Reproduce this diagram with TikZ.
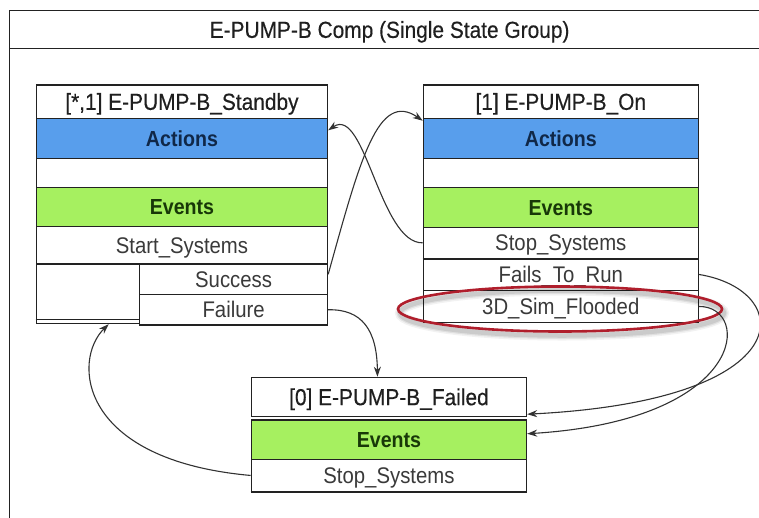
\documentclass[tikz,border=0pt]{standalone}
\usepackage{fontspec}
\setmainfont[FakeStretch=0.9]{Liberation Sans}
\newfontfamily\headfont[FakeStretch=0.9,FakeBold=0.35]{Liberation Sans}
\usetikzlibrary{arrows.meta,shapes.geometric}
\definecolor{linec}{RGB}{34,34,34}
\definecolor{bodyc}{RGB}{58,58,58}
\definecolor{actfill}{RGB}{88,158,236}
\definecolor{actc}{RGB}{16,40,72}
\definecolor{evfill}{RGB}{166,240,96}
\definecolor{evc}{RGB}{24,56,8}
\definecolor{hlred}{RGB}{176,30,44}
\definecolor{wirec}{RGB}{50,50,50}
\tikzset{
  cell/.style={draw=linec, line width=1.2pt, fill=white, inner sep=0pt,
    anchor=north west, text=bodyc, font=\fontsize{22.6}{26}\selectfont,
    text height=16pt, text depth=0pt},
  headcell/.style={cell, text=black!88, font=\headfont\fontsize{23.2}{27}\selectfont, text height=16.5pt},
  actcell/.style={cell, fill=actfill, text=actc, font=\bfseries\fontsize{21.8}{25}\selectfont, text height=15.5pt},
  evcell/.style={cell, fill=evfill, text=evc, font=\bfseries\fontsize{21.8}{25}\selectfont, text height=15.5pt},
  wire/.style={draw=wirec, line width=1.1pt, -{Stealth[length=10pt,width=7pt]}},
  thickline/.style={draw=linec, line width=2.6pt},
}
\begin{document}
\begin{tikzpicture}[x=1pt,y=-1pt]
\useasboundingbox (0,0) rectangle (759,517);
\clip (0,0) rectangle (759,517);
\fill[white] (0,0) rectangle (759,517);

% group frame and its title bar
\node[cell, minimum width=760pt, minimum height=482pt] (frame) at (9,48) {};
\node[headcell, minimum width=760pt, minimum height=38pt] (title) at (9,10) {E-PUMP-B Comp (Single State Group)};

% state: standby
\node[headcell, minimum width=291.3pt, minimum height=33.4pt] (sbh) at (35.7,84.3) {[*,1] E-PUMP-B\_Standby};
\node[actcell, minimum width=291.3pt, minimum height=40pt] (sba) at (35.7,117.7) {Actions};
\node[cell, minimum width=291.3pt, minimum height=29.3pt] (sbw) at (35.7,157.7) {};
\node[evcell, minimum width=291.3pt, minimum height=38.7pt] (sbe) at (35.7,187) {Events};
\node[cell, minimum width=291.3pt, minimum height=37.6pt] (sbs) at (35.7,225.7) {Start\_Systems};
\node[cell, minimum width=103.3pt, minimum height=59.7pt] (sbl) at (35.7,263.3) {};
\draw[draw=linec, line width=1.2pt] ([yshift=4.5pt]sbl.south west) -- ([yshift=4.5pt]sbl.south east);
\node[cell, minimum width=188pt, minimum height=30.7pt] (sbsu) at (139,263.3) {Success};
\node[cell, minimum width=188pt, minimum height=30.3pt] (sbf) at (139,294) {Failure};

% state: on
\node[headcell, minimum width=275pt, minimum height=33.4pt] (onh) at (422.7,84.3) {[1] E-PUMP-B\_On};
\node[actcell, minimum width=275pt, minimum height=40pt] (ona) at (422.7,117.7) {Actions};
\node[cell, minimum width=275pt, minimum height=29.3pt] (onw) at (422.7,157.7) {};
\node[evcell, minimum width=275pt, minimum height=39.7pt] (one) at (422.7,187) {Events};
\node[cell, minimum width=275pt, minimum height=31pt] (ons) at (422.7,226.7) {Stop\_Systems};
\node[cell, minimum width=275pt, minimum height=32.3pt] (onf) at (422.7,257.7) {Fails\_To\_Run};
\node[cell, minimum width=275pt, minimum height=31.7pt] (ond) at (422.7,290) {3D\_Sim\_Flooded};
\draw[thickline] (ons.south west) -- (ons.south east);

% state: failed
\node[headcell, minimum width=275.3pt, minimum height=39.3pt] (fh) at (250.7,376.7) {[0] E-PUMP-B\_Failed};
\node[evcell, minimum width=275.3pt, minimum height=39.7pt] (fe) at (250.7,419.3) {Events};
\node[cell, minimum width=275.3pt, minimum height=31.7pt] (fs) at (250.7,459) {Stop\_Systems};
\draw[thickline] (fs.south west) -- (fs.south east);

% highlight ring with a soft shadow
\foreach \w/\o in {10/0.05, 7/0.07, 4.5/0.09}
  \node[ellipse, draw=black, opacity=\o, line width=\w pt, minimum width=324pt,
        minimum height=45pt, inner sep=0pt] at (562,313) {};
\node[ellipse, draw=hlred, line width=2.6pt, minimum width=324pt,
      minimum height=45pt, inner sep=0pt] (hl) at (560,309) {};

% transitions
\draw[wire] ([yshift=5pt]sbsu.east) .. controls (360,160) and (378,90) .. ([yshift=-3pt]ona.north west);
\draw[wire] (ons.west) .. controls (380,244) and (365,105) .. ([yshift=8pt]sba.east);
\draw[wire] (sbf.east) .. controls (362,309) and (377,330) .. ([xshift=-11.5pt]fh.north);
\draw[wire] (onf.east) .. controls (795,290) and (805,400) .. ([yshift=3pt]fh.south east);
\draw[wire] (ond.east) .. controls (752,306) and (748,420) .. ([yshift=6pt]fe.east);
\draw[wire] (fs.west) .. controls (78,460) and (72,360) .. ([xshift=20.7pt]sbl.south);
\end{tikzpicture}
\end{document}
